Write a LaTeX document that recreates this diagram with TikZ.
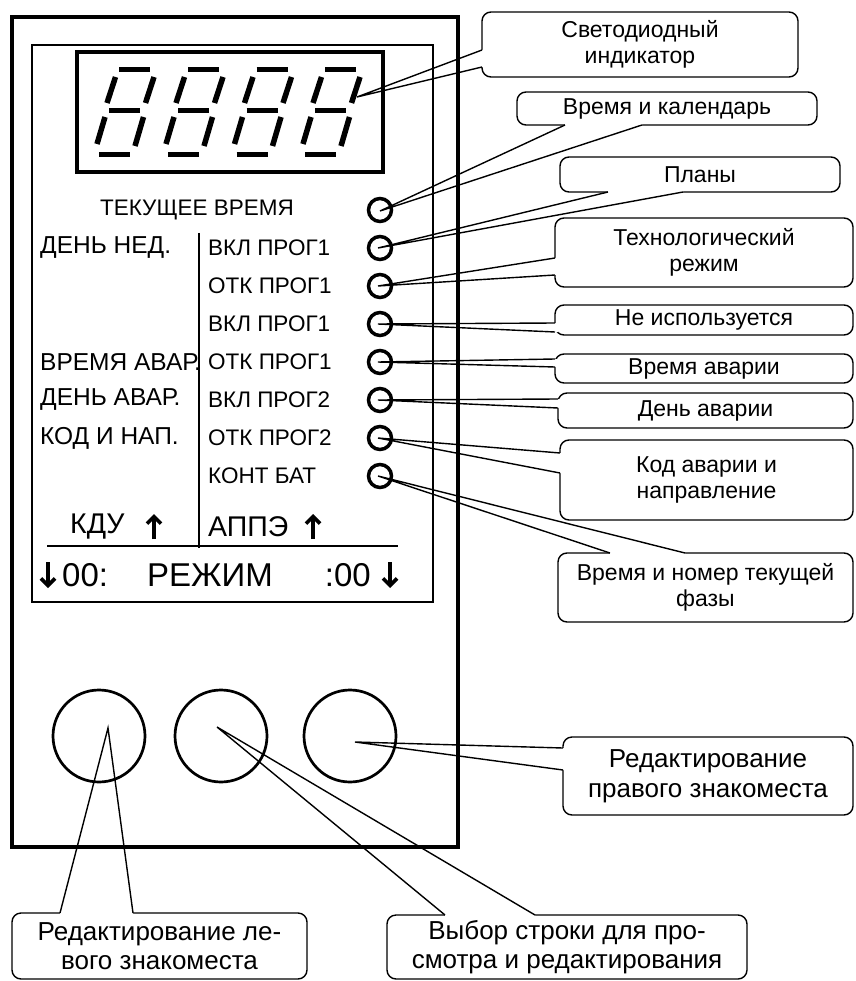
\documentclass[tikz,border=0pt]{standalone}
\usepackage{fontspec}
\setmainfont{Liberation Sans}
\usetikzlibrary{arrows.meta}
\tikzset{
  callbox/.style={draw, line width=1.4pt, rounded corners=9pt, fill=white, inner sep=0pt, align=center},
  calltxt/.style={font=\fontsize{23}{26}\selectfont},
  calltxtbig/.style={font=\fontsize{26}{29.5}\selectfont},
  wedgeline/.style={line width=1.4pt, line join=miter},
  seg/.style={line width=5.5pt, line cap=butt},
  scrtxt/.style={font=\fontsize{22.5}{27}\selectfont, inner sep=0pt},
  scrtxtl/.style={font=\fontsize{24.5}{27}\selectfont, inner sep=0pt},
  bigtxt/.style={font=\fontsize{28.5}{32}\selectfont, inner sep=0pt},
  bottxt/.style={font=\fontsize{33}{36}\selectfont, inner sep=0pt},
  indic/.style={draw, circle, line width=3.5pt, minimum size=23pt, inner sep=0pt},
  button/.style={draw, circle, line width=2.7pt, minimum size=92pt, inner sep=0pt},
  fatarrow/.style={line width=4pt, -{Straight Barb[length=7pt,width=14pt,line width=3.6pt]}},
}
\newcommand\mydigit[1]{%
  \begin{scope}[xshift=#1pt]
    \draw[seg] (119,69.5) -- (150,69.5);
    \draw[seg] (109,110.5) -- (140,110.5);
    \draw[seg] (99,154.5) -- (130,154.5);
    \draw[seg] (115.5,77) -- (107,103);
    \draw[seg] (154,77) -- (145.5,103);
    \draw[seg] (105,117) -- (97,144);
    \draw[seg] (143.5,117) -- (135,146);
  \end{scope}}
\begin{document}
\begin{tikzpicture}[x=1pt,y=-1pt]
\useasboundingbox (0,0) rectangle (855,981);
\fill[white] (0,0) rectangle (855,981);

% ---------- callouts (drawn first, device on top) ----------
\node[callbox, calltxt, minimum width=316pt, minimum height=65pt] (c1) at (640,44.5) {Светодиодный\\индикатор};
\node[callbox, calltxt, minimum width=300pt, minimum height=33pt] (c2) at (667,108.5) {Время и календарь};
\node[callbox, calltxt, minimum width=280pt, minimum height=35pt] (c3) at (700,174.5) {Планы};
\node[callbox, calltxt, minimum width=298pt, minimum height=69pt] (c4) at (704,252.5) {Технологический\\режим};
\node[callbox, calltxt, minimum width=298pt, minimum height=30pt] (c5) at (704,320) {Не используется};
\node[callbox, calltxt, minimum width=298pt, minimum height=29pt] (c6) at (704,368.5) {Время аварии};
\node[callbox, calltxt, minimum width=295pt, minimum height=35pt] (c7) at (705.5,410.5) {День аварии};
\node[callbox, calltxt, minimum width=293pt, minimum height=80pt] (c8) at (706.5,480) {Код аварии и\\направление};
\node[callbox, calltxt, minimum width=295pt, minimum height=69pt] (c9) at (705.5,587.5) {Время и номер текущей\\фазы};
\node[callbox, calltxtbig, minimum width=290pt, minimum height=78pt] (c10) at (708,776) {Редактирование\\правого знакоместа};
\node[callbox, calltxtbig, minimum width=295pt, minimum height=66pt] (c11) at (159.5,946) {Редактирование ле-\\вого знакоместа};
\node[callbox, calltxtbig, minimum width=360pt, minimum height=64pt] (c12) at (567,947) {Выбор строки для про-\\смотра и редактирования};

% tips
\coordinate (t1) at (357,97);
\coordinate (t2) at (380,211);
\coordinate (t3) at (378,248);
\coordinate (t4) at (378,286);
\coordinate (t5) at (378,324);
\coordinate (t6) at (378,362);
\coordinate (t7) at (378,400);
\coordinate (t8) at (378,438);
\coordinate (t9) at (378,476);
\coordinate (t10) at (355,742);
\coordinate (t11) at (108,728);
\coordinate (t12) at (217,727);

% wedges: left-side bases
\foreach \t/\xa/\ya/\yb in {t1/482/50/67, t4/555/258/275, t5/555/323/332, t6/555/359/367, t7/558/399/408, t8/560/453/473, t10/563/748/770}{
  \fill[white] (\xa,\ya) -- (\t) -- (\xa,\yb) -- ([xshift=3pt]\xa,\yb) -- ([xshift=3pt]\xa,\ya) -- cycle;
  \draw[wedgeline] (\xa,\ya) -- (\t) -- (\xa,\yb);
}
% wedges: bottom-edge bases
\foreach \t/\xa/\xb/\y in {t2/565/642/125, t3/608/683/192}{
  \fill[white] (\xa,\y) -- (\t) -- (\xb,\y) -- (\xb,\y-3) -- (\xa,\y-3) -- cycle;
  \draw[wedgeline] (\xa,\y) -- (\t) -- (\xb,\y);
}
% wedges: top-edge bases
\foreach \t/\xa/\xb/\y in {t9/610/685/553, t11/60/133/913, t12/445/535/915}{
  \fill[white] (\xa,\y) -- (\t) -- (\xb,\y) -- (\xb,\y+3) -- (\xa,\y+3) -- cycle;
  \draw[wedgeline] (\xa,\y) -- (\t) -- (\xb,\y);
}

% ---------- device ----------
\draw[line width=3.5pt] (12,17) rectangle (458,847);
\draw[line width=2.5pt] (32,45) rectangle (433,602);
\draw[line width=3.5pt] (77,52) rectangle (383,172);
\mydigit{0}
\mydigit{69}
\mydigit{137.5}
\mydigit{206}

% indicator circles
\foreach \i/\y in {1/210, 2/248, 3/286, 4/324, 5/362, 6/400, 7/438, 8/476}{
  \node[indic] (led\i) at (380,\y) {};
}

% screen text
\node[scrtxt] (cur) at (197,210) {ТЕКУЩЕЕ ВРЕМЯ};
\node[scrtxtl, anchor=west] (l1) at (40,248) {ДЕНЬ НЕД.};
\node[scrtxtl, anchor=west] (l2) at (40,362) {ВРЕМЯ АВАР.};
\node[scrtxtl, anchor=west] (l3) at (40,400) {ДЕНЬ АВАР.};
\node[scrtxtl, anchor=west] (l4) at (40,438) {КОД И НАП.};
\node[scrtxt, anchor=west] (r1) at (208,248) {ВКЛ ПРОГ1};
\node[scrtxt, anchor=west] (r2) at (208,286) {ОТК ПРОГ1};
\node[scrtxt, anchor=west] (r3) at (208,324) {ВКЛ ПРОГ1};
\node[scrtxt, anchor=west] (r4) at (208,362) {ОТК ПРОГ1};
\node[scrtxt, anchor=west] (r5) at (208,400) {ВКЛ ПРОГ2};
\node[scrtxt, anchor=west] (r6) at (208,438) {ОТК ПРОГ2};
\node[scrtxt, anchor=west] (r7) at (208,476) {КОНТ БАТ};

\draw[line width=1.5pt] (199,233) -- (199,548);
\draw[line width=1.5pt] (47,546) -- (398,546);

\node[bigtxt, anchor=west] (kdu) at (70,527) {КДУ};
\draw[fatarrow] (154,539) -- (154,514);
\node[bigtxt, anchor=west] (appe) at (208,527) {АППЭ};
\draw[fatarrow] (313,539) -- (313,514);

\draw[fatarrow] (48,562) -- (48,588);
\node[bottxt, anchor=west] (z1) at (62,575) {00:};
\node[bottxt] (mode) at (210,575) {РЕЖИМ};
\node[bottxt, anchor=east] (z2) at (371,575) {:00};
\draw[fatarrow] (390,562) -- (390,588);

% buttons
\node[button] (b1) at (99,736) {};
\node[button] (b2) at (221,736) {};
\node[button] (b3) at (350,736) {};
\end{tikzpicture}
\end{document}
